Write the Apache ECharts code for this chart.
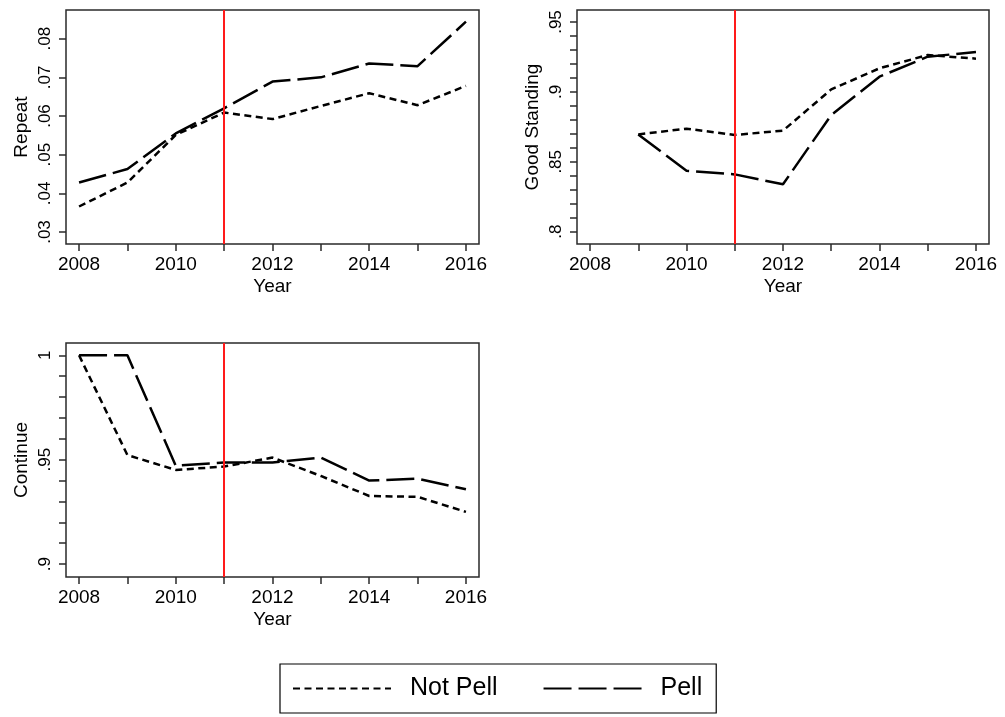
<!DOCTYPE html>
<html>
<head>
<meta charset="utf-8">
<script src="https://cdn.jsdelivr.net/npm/echarts@6/dist/echarts.min.js"></script>
<style>
html,body{margin:0;padding:0;background:#fff;}
#chart{width:1005px;height:717px;}
</style>
</head>
<body>
<div id="chart"></div>
<script>
// ---- data ----
const years = [2008, 2009, 2010, 2011, 2012, 2013, 2014, 2015, 2016];
const yearTicks = [2008, 2009, 2010, 2011, 2012, 2013, 2014, 2015, 2016];
const yearLabels = [2008, 2010, 2012, 2014, 2016];

const repeatNotPell = [0.0366, 0.0428, 0.0551, 0.0609, 0.0592, 0.0626, 0.0659, 0.0628, 0.0678];
const repeatPell    = [0.0428, 0.0463, 0.0555, 0.0620, 0.0689, 0.0700, 0.0736, 0.0729, 0.0844];
const repeatTicks   = [0.03, 0.04, 0.05, 0.06, 0.07, 0.08];
const repeatLabels  = [0.03, 0.04, 0.05, 0.06, 0.07, 0.08];

const goodNotPell = [null, 0.8696, 0.8737, 0.8692, 0.8723, 0.9018, 0.9169, 0.9264, 0.9238];
const goodPell    = [null, 0.8696, 0.8436, 0.8410, 0.8339, 0.8835, 0.9109, 0.9252, 0.9285];
const goodTicks   = [0.80, 0.81, 0.82, 0.83, 0.84, 0.85, 0.86, 0.87, 0.88, 0.89, 0.90, 0.91, 0.92, 0.93, 0.94, 0.95];
const goodLabels  = [0.80, 0.85, 0.90, 0.95];

const contNotPell = [1.0, 0.9522, 0.9451, 0.9467, 0.9510, 0.9422, 0.9326, 0.9322, 0.9250];
const contPell    = [1.0, 1.0, 0.9471, 0.9487, 0.9487, 0.9510, 0.9400, 0.9409, 0.9358];
const contTicks   = [0.90, 0.91, 0.92, 0.93, 0.94, 0.95, 0.96, 0.97, 0.98, 0.99, 1.00];
const contLabels  = [0.90, 0.95, 1.00];

const cutoffYear = 2011;
const seriesNames = ['Not Pell', 'Pell'];

// ---- styling ----
const FONT = 'Liberation Sans';
const AXC = '#2a2a2a';
const fmt = v => String(+(+v).toFixed(2)).replace(/^0\./, '.');
const pairs = arr => years.map((y, i) => [y, arr[i]]);

function xAxisFor(gi) {
  return {
    type: 'value', gridIndex: gi, min: 2007.73, max: 2016.27,
    name: 'Year', nameLocation: 'middle', nameGap: 33,
    nameTextStyle: {fontFamily: FONT, fontSize: 19, color: '#000'},
    axisLine: {show: false},
    axisTick: {show: true, length: 7, customValues: yearTicks, lineStyle: {color: AXC, width: 1.5}},
    axisLabel: {show: true, customValues: yearLabels, margin: 11, fontFamily: FONT, fontSize: 19, color: '#000', formatter: v => String(v)},
    splitLine: {show: false}
  };
}
function yAxisFor(gi, name, min, max, ticks, labels) {
  return {
    type: 'value', gridIndex: gi, min: min, max: max,
    name: name, nameLocation: 'middle', nameGap: 35, nameRotate: 90,
    nameTextStyle: {fontFamily: FONT, fontSize: 19, color: '#000'},
    axisLine: {show: false},
    axisTick: {show: true, length: 7, customValues: ticks, lineStyle: {color: AXC, width: 1.5}},
    axisLabel: {show: true, customValues: labels, rotate: 90, margin: 12, fontFamily: FONT, fontSize: 17, color: '#000', formatter: fmt},
    splitLine: {show: false}
  };
}
const dotted = {color: '#000', width: 2.5, type: [7, 4.5]};
const dashed = {color: '#000', width: 2.5, type: [28, 7]};
function mkSeries(gi, notPell, pell) {
  return [
    {
      name: seriesNames[0], type: 'line', xAxisIndex: gi, yAxisIndex: gi,
      data: pairs(notPell), showSymbol: false, symbol: 'none', connectNulls: false,
      lineStyle: dotted, itemStyle: {color: '#000'}, animation: false, z: 3,
      markLine: {
        silent: true, symbol: ['none', 'none'], label: {show: false}, animation: false,
        lineStyle: {color: '#ff1a1a', width: 2, type: 'solid'},
        data: [{xAxis: cutoffYear}]
      }
    },
    {
      name: seriesNames[1], type: 'line', xAxisIndex: gi, yAxisIndex: gi,
      data: pairs(pell), showSymbol: false, symbol: 'none', connectNulls: false,
      lineStyle: dashed, itemStyle: {color: '#000'}, animation: false, z: 3
    }
  ];
}

const gridBase = {show: true, borderColor: AXC, borderWidth: 1.5, backgroundColor: 'transparent', containLabel: false};

const option = {
  backgroundColor: '#fff',
  animation: false,
  textStyle: {fontFamily: FONT},
  grid: [
    Object.assign({left: 66, top: 10, width: 413, height: 234}, gridBase),
    Object.assign({left: 577, top: 10, width: 412, height: 234}, gridBase),
    Object.assign({left: 66, top: 343, width: 413, height: 234}, gridBase)
  ],
  xAxis: [xAxisFor(0), xAxisFor(1), xAxisFor(2)],
  yAxis: [
    yAxisFor(0, 'Repeat', 0.0269, 0.08742, repeatTicks, repeatLabels),
    yAxisFor(1, 'Good Standing', 0.7912, 0.9586, goodTicks, goodLabels),
    yAxisFor(2, 'Continue', 0.8938, 1.0059, contTicks, contLabels)
  ],
  legend: {
    data: seriesNames, left: 280, top: 664, orient: 'horizontal',
    itemWidth: 98, itemHeight: 14, itemGap: 45,
    padding: [12, 14, 12, 12],
    borderColor: '#000', borderWidth: 1.2,
    selectedMode: false,
    itemStyle: {color: 'transparent', borderColor: 'transparent', borderWidth: 0, opacity: 0},
    textStyle: {fontFamily: FONT, fontSize: 25, color: '#000', padding: [0, 0, 0, 14]}
  },
  series: [].concat(
    mkSeries(0, repeatNotPell, repeatPell),
    mkSeries(1, goodNotPell, goodPell),
    mkSeries(2, contNotPell, contPell)
  )
};

const chart = echarts.init(document.getElementById('chart'), null, {renderer: 'canvas'});
chart.setOption(option);
</script>
</body>
</html>
